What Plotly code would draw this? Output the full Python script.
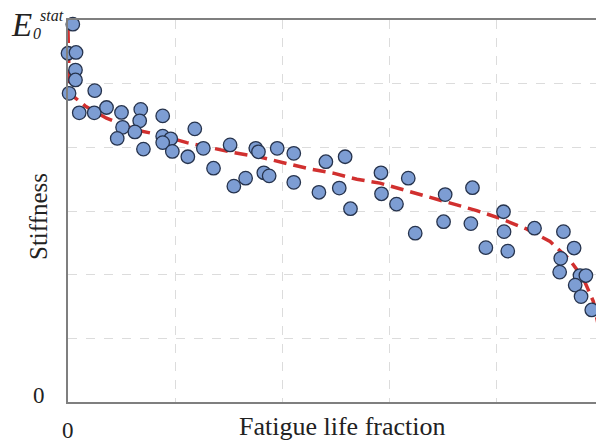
import plotly.graph_objects as go

# Measured data (fraction of fatigue life, stiffness relative to E0stat)
life_fraction = [0.009, 0.000, 0.015, 0.014, 0.014, 0.002, 0.050, 0.021, 0.049, 0.072,
                 0.100, 0.136, 0.134, 0.102, 0.125, 0.092, 0.141, 0.177, 0.177, 0.192,
                 0.177, 0.195, 0.237, 0.224, 0.253, 0.272, 0.303, 0.310, 0.332, 0.351,
                 0.356, 0.366, 0.376, 0.391, 0.422, 0.422, 0.482, 0.518, 0.469, 0.507,
                 0.528, 0.585, 0.586, 0.614, 0.636, 0.649, 0.705, 0.702, 0.756, 0.753,
                 0.781, 0.814, 0.815, 0.822, 0.872, 0.926, 0.946, 0.921, 0.919, 0.957,
                 0.968, 0.948, 0.959, 0.979, 0.988]
stiffness = [0.989, 0.913, 0.915, 0.869, 0.843, 0.808, 0.815, 0.757, 0.757, 0.771,
             0.758, 0.766, 0.736, 0.719, 0.707, 0.690, 0.662, 0.749, 0.696, 0.689,
             0.679, 0.656, 0.715, 0.642, 0.664, 0.612, 0.673, 0.565, 0.586, 0.664,
             0.655, 0.600, 0.592, 0.664, 0.651, 0.575, 0.629, 0.642, 0.549, 0.560,
             0.506, 0.600, 0.545, 0.518, 0.586, 0.442, 0.543, 0.472, 0.561, 0.467,
             0.404, 0.498, 0.446, 0.395, 0.455, 0.446, 0.403, 0.376, 0.340, 0.331,
             0.331, 0.306, 0.276, 0.241, 0.195]

# Trend curve
trend_x = [0.000, 0.0006, 0.0024, 0.011, 0.032, 0.051, 0.072, 0.128, 0.172, 0.222,
           0.265, 0.309, 0.359, 0.409, 0.452, 0.496, 0.540, 0.583, 0.627, 0.670,
           0.714, 0.764, 0.807, 0.857, 0.901, 0.938, 0.963, 0.982, 0.991]
trend_y = [0.974, 0.864, 0.825, 0.799, 0.775, 0.760, 0.743, 0.712, 0.699, 0.679,
           0.666, 0.653, 0.641, 0.625, 0.610, 0.599, 0.583, 0.573, 0.555, 0.538,
           0.521, 0.501, 0.481, 0.453, 0.420, 0.372, 0.324, 0.263, 0.202]

x_grid = [0, 0.2, 0.4, 0.6, 0.8, 1.0]
y_grid = [0, 1/6, 2/6, 3/6, 4/6, 5/6, 1.0]

SERIF = "Liberation Serif"
W, H = 596, 442
L, R, T, B = 68, 0, 20, 40
PW, PH = W - L - R, H - T - B


def px(xp, yp):
    """pixel position -> paper coordinates of the plot area"""
    return (xp - L) / PW, (H - B - yp) / PH


fig = go.Figure()
fig.add_trace(go.Scatter(
    x=trend_x, y=trend_y, mode="lines",
    line=dict(color="#d1302f", width=3.5, dash="13px,7px"),
    showlegend=False, hoverinfo="skip"))
fig.add_trace(go.Scatter(
    x=life_fraction, y=stiffness, mode="markers",
    marker=dict(size=13.5, color="#7d9dd3", line=dict(color="#26334d", width=1.3)),
    showlegend=False, cliponaxis=False))

fig.update_layout(
    width=W, height=H,
    margin=dict(l=L, r=R, t=T, b=B, autoexpand=False),
    paper_bgcolor="white", plot_bgcolor="white",
    font=dict(family=SERIF, color="#222222"),
    xaxis=dict(range=[0, PW / 535], tickvals=x_grid, showticklabels=False,
               showgrid=True, gridcolor="#dcdcdc", griddash="dash", gridwidth=1,
               showline=True, linecolor="#7f7f7f", linewidth=2, mirror=True,
               zeroline=False, ticks=""),
    yaxis=dict(range=[0, 1], tickvals=y_grid, showticklabels=False,
               showgrid=True, gridcolor="#dcdcdc", griddash="dash", gridwidth=1,
               showline=True, linecolor="#7f7f7f", linewidth=2,
               zeroline=False, ticks=""),
)


def label(text, xp, yp, size, angle=0, anchor="center"):
    x, y = px(xp, yp)
    fig.add_annotation(text=text, xref="paper", yref="paper", x=x, y=y,
                       xanchor=anchor, yanchor="middle", showarrow=False,
                       textangle=angle,
                       font=dict(family=SERIF, size=size, color="#222222"))


label("0", 39, 395, 23)
label("0", 67.5, 430, 23)
label("Fatigue life fraction", 342, 426, 26)
label("Stiffness", 38, 217, 25, angle=-90)
label("<i>E</i>", 9, 25, 33, anchor="left")
label("<i>0</i>", 31, 33, 16, anchor="left")
label("<i>stat</i>", 38, 15, 16, anchor="left")

fig.write_html("out.html", config={"displayModeBar": False},
               post_script="document.body.style.margin='0';document.body.style.overflow='hidden';")
